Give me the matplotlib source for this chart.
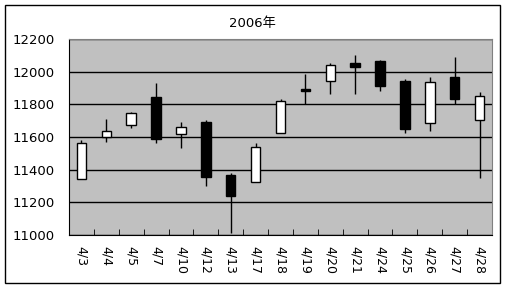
import matplotlib.pyplot as plt
import numpy as np
from matplotlib.patches import Rectangle

plt.rcParams['font.family'] = ['DejaVu Sans', 'Noto Sans CJK JP']

dates = ["4/3", "4/4", "4/5", "4/7", "4/10", "4/12", "4/13", "4/17", "4/18",
         "4/19", "4/20", "4/21", "4/24", "4/25", "4/26", "4/27", "4/28"]
opens = [11345, 11602, 11676, 11843, 11621, 11692, 11368, 11327, 11627,
         11894, 11945, 12053, 12065, 11941, 11684, 11965, 11702]
closes = [11561, 11635, 11745, 11590, 11659, 11357, 11241, 11537, 11819,
          11882, 12039, 12031, 11914, 11651, 11935, 11835, 11849]
highs = [11582, 11710, 11753, 11931, 11692, 11704, 11380, 11563, 11833,
         11986, 12053, 12102, 12071, 11953, 11965, 12090, 11876]
lows = [11345, 11572, 11657, 11566, 11535, 11302, 11010, 11327, 11627,
        11800, 11865, 11865, 11884, 11627, 11639, 11804, 11347]

fig = plt.figure(figsize=(5.07, 2.88), dpi=100)
fig.patches.append(Rectangle((5/507, 5/288), 495/507, 278/288, transform=fig.transFigure,
                             fill=False, edgecolor='black', lw=1))
ax = fig.add_axes([69/507, 53/288, 423/507, 196/288])
ax.set_facecolor('#c0c0c0')

x = np.arange(len(dates))
o = np.array(opens)
c = np.array(closes)
ax.vlines(x, lows, highs, color='black', lw=1, zorder=2)
up = c >= o
cols = ['white' if u else 'black' for u in up]
ax.bar(x, np.abs(c - o), bottom=np.minimum(o, c), width=0.38, color=cols,
       edgecolor='black', lw=1, zorder=3)

ax.set_xlim(-0.5, len(dates) - 0.5)
ax.set_ylim(11000, 12200)
ax.set_yticks(range(11000, 12201, 200))
ax.yaxis.grid(True, color='black', lw=1)
ax.set_axisbelow(True)
ax.tick_params(axis='y', length=0, labelsize=9.5, pad=10)
ax.set_xticks(x)
ax.set_xticklabels(dates, rotation=-90, fontsize=9, va='top', ha='center')
ax.set_xticks(np.arange(-0.5, len(dates)), minor=True)
ax.tick_params(axis='x', which='major', length=0, pad=8)
ax.tick_params(axis='x', which='minor', direction='in', length=4, color='black')

for s in ['top', 'right']:
    ax.spines[s].set_color('#808080')
for s in ['left', 'bottom']:
    ax.spines[s].set_color('black')

fig.text(252/507, 1 - 23/288, "2006年", ha='center', va='center', fontsize=9.5)

fig.savefig("out.png", dpi=100)
